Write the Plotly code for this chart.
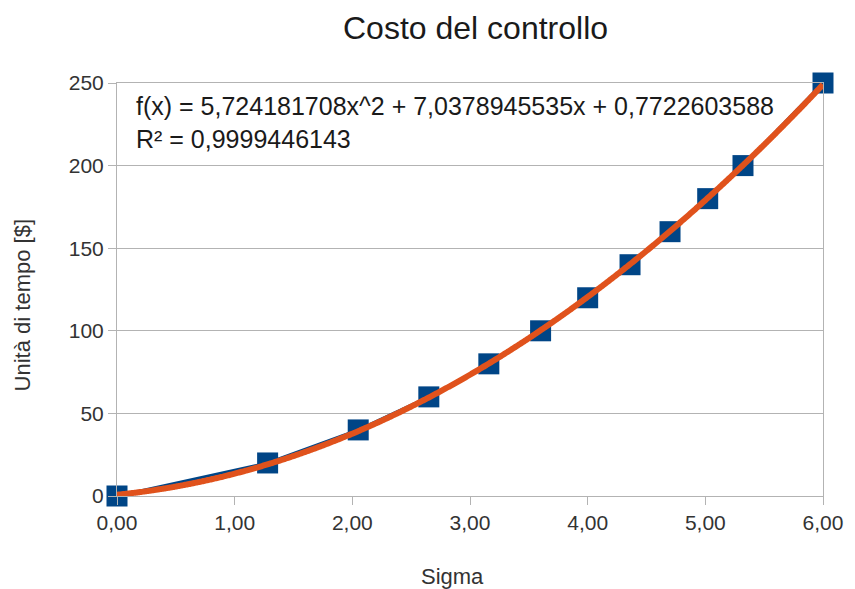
import numpy as np
import plotly.graph_objects as go

sigma = [0.0, 1.28, 2.05, 2.65, 3.16, 3.60, 4.00, 4.36, 4.70, 5.02, 5.32, 6.00]
costo = [0, 20, 40, 60, 80, 100, 120, 140, 160, 180, 200, 250]
coef = [5.724181708, 7.0378945535, 0.7722603588]  # a, b, c of the trend line
r2_text = "0,9999446143"

xs = np.linspace(0, 6, 400)
ys = coef[0] * xs**2 + coef[1] * xs + coef[2]

FONT = "Liberation Sans, Arial, sans-serif"

fig = go.Figure()
fig.add_trace(go.Scatter(
    x=sigma, y=costo, mode="lines+markers",
    line=dict(color="#004586", width=3),
    marker=dict(symbol="square", size=21, color="#004586"),
    cliponaxis=False,
    showlegend=False, hoverinfo="skip"))
fig.add_trace(go.Scatter(
    x=xs, y=ys, mode="lines",
    line=dict(color="#e0521c", width=6, shape="spline"),
    cliponaxis=False,
    showlegend=False, hoverinfo="skip"))

fig.update_layout(
    width=855, height=589,
    margin=dict(l=117, r=29, t=83, b=93),
    paper_bgcolor="white", plot_bgcolor="white",
    separators=",.",
    font=dict(family=FONT, color="#333333"),
    xaxis=dict(range=[0, 6], dtick=1, tickformat=".2f",
               showgrid=False, zeroline=False,
               showline=True, linecolor="#b3b3b3", linewidth=1, mirror=True,
               ticks="outside", ticklen=8, tickcolor="#b3b3b3",
               tickfont=dict(size=21, color="#333333", family=FONT)),
    yaxis=dict(range=[0, 250], dtick=50,
               showgrid=True, gridcolor="#b3b3b3", gridwidth=1, zeroline=False,
               showline=True, linecolor="#b3b3b3", linewidth=1, mirror=True,
               ticks="outside", ticklen=8, tickcolor="#b3b3b3",
               tickfont=dict(size=21, color="#333333", family=FONT)),
    annotations=[
        dict(text="Costo del controllo", xref="paper", yref="paper",
             x=(477 - 117) / 709, y=1 + (83 - 28) / 413, showarrow=False,
             xanchor="center", yanchor="middle",
             font=dict(size=32, color="#1a1a1a", family=FONT)),
        dict(text="Sigma", xref="paper", yref="paper",
             x=(454 - 117) / 709, y=-(576 - 496) / 413, showarrow=False,
             xanchor="center", yanchor="middle",
             font=dict(size=22, color="#333333", family=FONT)),
        dict(text="Unità di tempo [$]", xref="paper", yref="paper",
             x=-(117 - 22) / 709, y=(496 - 305) / 413, showarrow=False,
             textangle=-90, xanchor="center", yanchor="middle",
             font=dict(size=22, color="#333333", family=FONT)),
        dict(text=("f(x) = 5,724181708x^2 + 7,0378945535x + 0,7722603588<br>"
                   "R² = " + r2_text),
             xref="paper", yref="paper",
             x=(134 - 117) / 709, y=(496 - 90) / 413, showarrow=False,
             xanchor="left", yanchor="top", align="left",
             font=dict(size=25, color="#1a1a1a", family=FONT)),
    ],
)

fig.write_html("out.html", config={"displayModeBar": False},
               post_script="document.body.style.margin='0';document.body.style.overflow='hidden';")
